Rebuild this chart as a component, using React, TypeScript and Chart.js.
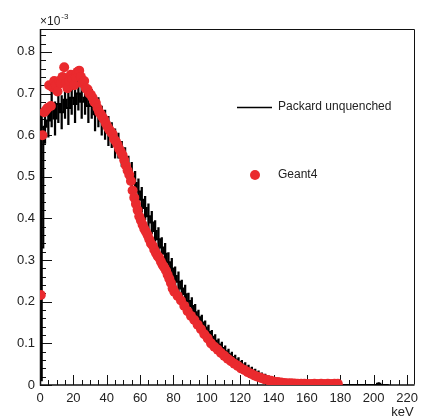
import React, { useEffect, useRef } from 'react';
import { Chart, registerables } from 'chart.js';

Chart.register(...registerables);

const FONT = '"Liberation Sans", Arial, Helvetica, sans-serif';
const RED = '#ea2a2e';

// x axis (keV) and y axis (×10^-3) ranges
const X_MIN = 0;
const X_MAX = 224.5;
const Y_MIN = 0;
const Y_MAX = 0.855;
const X_TICK_STEP = 20;
const Y_TICK_STEP = 0.1;

// Packard unquenched spectrum: 2 keV bins (bin centres), values and errors in units of 1e-3
const PACKARD_KEV = [
  1, 3, 5, 7, 9, 11, 13, 15, 17, 19,
  21, 23, 25, 27, 29, 31, 33, 35, 37, 39,
  41, 43, 45, 47, 49, 51, 53, 55, 57, 59,
  61, 63, 65, 67, 69, 71, 73, 75, 77, 79,
  81, 83, 85, 87, 89, 91, 93, 95, 97, 99,
  101, 103, 105, 107, 109, 111, 113, 115, 117, 119,
  121, 123, 125, 127, 129, 131, 133, 135, 137, 139,
  141, 143, 145, 147, 149, 151, 153, 155, 157, 159,
  161, 163, 165, 167, 169, 171, 173, 175, 177, 179,
  181, 183, 185, 187, 189, 191, 193, 195, 197, 199,
  201, 203, 205, 207, 209,
];
const PACKARD_RATE = [
  0.33, 0.62, 0.635, 0.665, 0.64, 0.675, 0.655, 0.685, 0.665, 0.69,
  0.675, 0.70, 0.68, 0.69, 0.67, 0.675, 0.65, 0.655, 0.635, 0.625,
  0.61, 0.60, 0.58, 0.575, 0.555, 0.54, 0.52, 0.505, 0.485, 0.465,
  0.445, 0.425, 0.405, 0.39, 0.37, 0.35, 0.33, 0.315, 0.295, 0.28,
  0.262, 0.248, 0.232, 0.218, 0.202, 0.19, 0.175, 0.163, 0.15, 0.138,
  0.127, 0.116, 0.106, 0.097, 0.089, 0.081, 0.074, 0.067, 0.061, 0.055,
  0.049, 0.044, 0.039, 0.034, 0.03, 0.026, 0.022, 0.019, 0.016, 0.013,
  0.011, 0.009, 0.0075, 0.006, 0.005, 0.004, 0.003, 0.0025, 0.002, 0.0015,
  0.001, 0.0008, 0.0006, 0.0005, 0.0004, 0.0003, 0.0002, 0.0002, 0.0001, 0.0001,
  0, 0, 0, 0, 0, 0, 0, 0, 0, 0,
  0, 0.003, 0, 0, 0,
];
const PACKARD_ERR = [
  0.32, 0.04, 0.04, 0.045, 0.04, 0.045, 0.04, 0.045, 0.04, 0.04,
  0.045, 0.04, 0.04, 0.04, 0.04, 0.035, 0.04, 0.035, 0.035, 0.035,
  0.035, 0.03, 0.035, 0.03, 0.03, 0.03, 0.03, 0.03, 0.028, 0.03,
  0.03, 0.028, 0.03, 0.027, 0.025, 0.028, 0.024, 0.025, 0.023, 0.024,
  0.022, 0.024, 0.02, 0.022, 0.019, 0.02, 0.019, 0.017, 0.018, 0.016,
  0.017, 0.015, 0.015, 0.014, 0.014, 0.013, 0.012, 0.012, 0.011, 0.011,
  0.01, 0.01, 0.009, 0.009, 0.008, 0.008, 0.007, 0.007, 0.006, 0.006,
  0.005, 0.005, 0.004, 0.004, 0.003, 0.003, 0.002, 0.002, 0.002, 0.0015,
  0.001, 0.001, 0.001, 0.001, 0.001, 0.001, 0.001, 0.001, 0.001, 0.001,
  0, 0, 0, 0, 0, 0, 0, 0, 0, 0,
  0, 0.003, 0, 0, 0,
];

// Geant4 points (keV, value in units of 1e-3)
const GEANT4_KEV = [
  0.5, 1.5, 2.5, 3.5, 4.5, 5.5, 6.5, 7.5, 8.5, 9.5,
  10.5, 11.5, 12.5, 13.5, 14.5, 15.5, 16.5, 17.5, 18.5, 19.5,
  20.5, 21.5, 22.5, 23.5, 24.5, 25.5, 26.5, 27.5, 28.5, 29.5,
  30.5, 31.5, 32.5, 33.5, 34.5, 35.5, 36.5, 37.5, 38.5, 39.5,
  40.5, 41.5, 42.5, 43.5, 44.5, 45.5, 46.5, 47.5, 48.5, 49.5,
  50.5, 51.5, 52.5, 53.5, 54.5, 55.5, 56.5, 57.5, 58.5, 59.5,
  60.5, 61.5, 62.5, 63.5, 64.5, 65.5, 66.5, 67.5, 68.5, 69.5,
  70.5, 71.5, 72.5, 73.5, 74.5, 75.5, 76.5, 77.5, 78.5, 79.5,
  80.5,
  82.5, 84.5, 86.5, 88.5, 90.5, 92.5, 94.5, 96.5, 98.5, 100.5,
  102.5, 104.5, 106.5, 108.5, 110.5, 112.5, 114.5, 116.5, 118.5, 120.5,
  122.5, 124.5, 126.5, 128.5, 130.5, 132.5, 134.5, 136.5, 138.5, 140.5,
  142.5, 144.5, 146.5, 148.5, 150.5, 152.5, 154.5, 156.5, 158.5, 160.5,
  162.5, 164.5, 166.5, 168.5, 170.5, 172.5, 174.5, 176.5, 178.5,
];
const GEANT4_RATE = [
  0.216, 0.60, 0.655, 0.66, 0.665, 0.72, 0.67, 0.715, 0.73, 0.72,
  0.705, 0.73, 0.725, 0.74, 0.763, 0.725, 0.713, 0.73, 0.745, 0.735,
  0.72, 0.74, 0.752, 0.755, 0.74, 0.725, 0.73, 0.712, 0.71, 0.70,
  0.697, 0.69, 0.68, 0.677, 0.665, 0.655, 0.65, 0.643, 0.637, 0.628,
  0.62, 0.613, 0.608, 0.603, 0.59, 0.585, 0.577, 0.567, 0.56, 0.552,
  0.54, 0.527, 0.515, 0.505, 0.49, 0.467, 0.45, 0.435, 0.42, 0.405,
  0.395, 0.385, 0.375, 0.368, 0.36, 0.35, 0.34, 0.335, 0.325, 0.317,
  0.31, 0.305, 0.296, 0.288, 0.282, 0.275, 0.265, 0.255, 0.245, 0.232,
  0.224,
  0.214, 0.203, 0.19, 0.177, 0.166, 0.156, 0.145, 0.134, 0.122, 0.112,
  0.1, 0.092, 0.085, 0.077, 0.07, 0.063, 0.057, 0.051, 0.046, 0.04,
  0.036, 0.031, 0.027, 0.023, 0.02, 0.017, 0.014, 0.012, 0.01, 0.008,
  0.007, 0.006, 0.005, 0.0045, 0.004, 0.0035, 0.003, 0.003, 0.003, 0.0025,
  0.0025, 0.003, 0.0025, 0.003, 0.0025, 0.003, 0.0025, 0.003, 0.003,
];

const LEGEND_LINE_LABEL = 'Packard unquenched';
const LEGEND_POINT_LABEL = 'Geant4';
const X_UNIT = 'keV';

const rootFramePlugin = {
  id: 'rootFrame',
  beforeDatasetsDraw(chart: any) {
    const { ctx, chartArea } = chart;
    const xs = chart.scales.x;
    const ys = chart.scales.y;
    const { left, right, top, bottom } = chartArea;
    ctx.save();
    ctx.strokeStyle = '#111';
    ctx.lineWidth = 1;
    ctx.beginPath();
    ctx.moveTo(Math.round(left) + 0.5, Math.round(top) + 0.5);
    ctx.lineTo(Math.round(right) - 0.5, Math.round(top) + 0.5);
    ctx.lineTo(Math.round(right) - 0.5, Math.round(bottom) - 0.5);
    ctx.stroke();
    ctx.lineWidth = 1.5;
    ctx.beginPath();
    ctx.moveTo(left + 0.5, top);
    ctx.lineTo(left + 0.5, bottom);
    ctx.lineTo(right, bottom);
    ctx.stroke();
    // x ticks: major every 20, minor every 5
    ctx.lineWidth = 1;
    ctx.beginPath();
    for (let i = 0; i * 5 <= X_MAX; i++) {
      const v = i * 5;
      const px = Math.round(xs.getPixelForValue(v)) + 0.5;
      const len = v % 20 === 0 ? 10 : 5;
      ctx.moveTo(px, bottom);
      ctx.lineTo(px, bottom - len);
    }
    // y ticks: major every 0.1, minor every 0.02
    for (let i = 0; i * 0.02 <= Y_MAX + 1e-9; i++) {
      const py = Math.round(ys.getPixelForValue(i * 0.02)) + 0.5;
      const len = i % 5 === 0 ? 12 : 6;
      ctx.moveTo(left, py);
      ctx.lineTo(left + len, py);
    }
    ctx.stroke();
    ctx.restore();
  },
  afterDraw(chart: any) {
    const { ctx, chartArea } = chart;
    ctx.save();
    ctx.fillStyle = '#222';
    ctx.textBaseline = 'alphabetic';
    ctx.textAlign = 'left';
    // ×10^-3 exponent label
    ctx.font = `12px ${FONT}`;
    ctx.fillText('\u00d710', chartArea.left, 25);
    const w = ctx.measureText('\u00d710').width;
    ctx.font = `8px ${FONT}`;
    ctx.fillText('-3', chartArea.left + w + 1, 19);
    // axis unit
    ctx.font = `13px ${FONT}`;
    ctx.textAlign = 'right';
    ctx.fillText(X_UNIT, chartArea.right - 1, 416);
    // legend
    ctx.textAlign = 'left';
    ctx.textBaseline = 'middle';
    ctx.font = `12px ${FONT}`;
    ctx.strokeStyle = '#000';
    ctx.lineWidth = 1.5;
    ctx.beginPath();
    ctx.moveTo(237, 107.5);
    ctx.lineTo(272, 107.5);
    ctx.stroke();
    ctx.fillText(LEGEND_LINE_LABEL, 278, 107);
    ctx.fillStyle = RED;
    ctx.beginPath();
    ctx.arc(255, 175, 5, 0, Math.PI * 2);
    ctx.fill();
    ctx.fillStyle = '#222';
    ctx.fillText(LEGEND_POINT_LABEL, 278, 175);
    ctx.restore();
  },
};

export default function App() {
  const ref = useRef<HTMLCanvasElement>(null);

  useEffect(() => {
    const canvas = ref.current;
    if (!canvas) return;
    const chart = new Chart(canvas, {
      type: 'scatter',
      data: {
        datasets: [
          {
            type: 'scatter',
            label: LEGEND_POINT_LABEL,
            data: GEANT4_KEV.map((x, i) => ({ x, y: GEANT4_RATE[i] })),
            pointRadius: 5,
            pointBackgroundColor: RED,
            pointBorderWidth: 0,
            pointBorderColor: RED,
            order: 0,
          } as any,
          {
            type: 'line',
            label: LEGEND_LINE_LABEL,
            data: PACKARD_KEV.map((x, i) => ({ x, y: PACKARD_RATE[i] })),
            stepped: 'middle',
            borderColor: '#000',
            borderWidth: 2,
            pointRadius: 0,
            fill: false,
            order: 1,
          } as any,
          {
            type: 'bar',
            label: LEGEND_LINE_LABEL + ' errors',
            data: PACKARD_KEV.map((x, i) => ({
              x,
              y: [PACKARD_RATE[i] - PACKARD_ERR[i], PACKARD_RATE[i] + PACKARD_ERR[i]],
            })),
            backgroundColor: '#000',
            borderWidth: 0,
            barThickness: 1.6,
            order: 2,
          } as any,
        ],
      },
      options: {
        responsive: false,
        animation: false,
        layout: { padding: { left: 0, top: 29, right: 3, bottom: 0 } },
        plugins: {
          legend: { display: false },
          tooltip: { enabled: false },
        },
        scales: {
          x: {
            type: 'linear',
            offset: false,
            min: X_MIN,
            max: X_MAX,
            grid: { display: false, drawTicks: false, tickLength: 0, offset: false },
            border: { display: false },
            ticks: {
              stepSize: X_TICK_STEP,
              includeBounds: false,
              autoSkip: false,
              maxRotation: 0,
              padding: 6,
              color: '#222',
              font: { family: FONT, size: 13 },
              callback: (v: any) => String(v),
            },
            afterFit: (s: any) => {
              s.height = 31;
            },
          },
          y: {
            type: 'linear',
            min: Y_MIN,
            max: Y_MAX,
            grid: { display: false, drawTicks: false, tickLength: 0 },
            border: { display: false },
            ticks: {
              stepSize: Y_TICK_STEP,
              includeBounds: false,
              autoSkip: false,
              padding: 5,
              color: '#222',
              font: { family: FONT, size: 13 },
              callback: (v: any) => (Number(v) === 0 ? '0' : Number(v).toFixed(1)),
            },
            afterFit: (s: any) => {
              s.width = 40;
            },
          },
        },
      },
      plugins: [rootFramePlugin],
    });
    return () => chart.destroy();
  }, []);

  return (
    <div style={{ position: 'fixed', left: 0, top: 0, width: 424, height: 416, background: '#fff' }}>
      <canvas ref={ref} width={424} height={416} style={{ display: 'block' }} />
    </div>
  );
}
